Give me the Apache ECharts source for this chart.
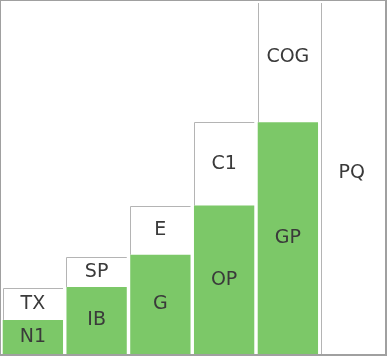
<!DOCTYPE html>
<html>
<head>
<meta charset="utf-8">
<script src="https://cdn.jsdelivr.net/npm/echarts@6/dist/echarts.min.js"></script>
<style>
html,body{margin:0;padding:0;background:#fff;}
#chart{width:384px;height:353px;border-style:solid;border-color:#a0a0a0;border-width:1px 2px 2px 1px;}
</style>
</head>
<body>
<div id="chart"></div>
<script>
const categories = ['N1', 'IB', 'G', 'OP', 'GP', 'PQ'];
const baseLabels = ['N1', 'IB', 'G', 'OP', 'GP', ''];
const topLabels = ['TX', 'SP', 'E', 'C1', 'COG', 'PQ'];
const baseValues = [9.7, 19.1, 28.3, 42.3, 66.0, 0];
const totalValues = [18.9, 27.7, 42.3, 66.0, 103, 103];

const GREEN = '#7cc868';
const EDGE = '#b4b4b4';
const TEXT = '#3a3a3a';
const FONT = 'normal 19px "DejaVu Sans"';

const chart = echarts.init(document.getElementById('chart'), null, {renderer: 'canvas'});

const data = categories.map((c, i) => [i, baseValues[i], totalValues[i]]);

chart.setOption({
  animation: false,
  grid: {left: 0, right: 1.5, top: 2, bottom: 0},
  xAxis: {type: 'category', data: categories, show: false},
  yAxis: {type: 'value', min: 0, max: 100, show: false},
  series: [{
    type: 'custom',
    data: data,
    clip: true,
    renderItem: function (params, api) {
      const i = api.value(0);
      const base = api.value(1);
      const total = api.value(2);
      const p0 = api.coord([i, 0]);
      const pb = api.coord([i, base]);
      const pt = api.coord([i, total]);
      const bw = api.size([1, 0])[0] * 0.946;
      const left = p0[0] - bw / 2;
      const children = [];
      children.push({
        type: 'rect',
        shape: {x: left, y: pt[1], width: bw, height: pb[1] - pt[1]},
        style: {fill: '#ffffff'}
      });
      const lx = Math.round(left) + 0.5;
      const ty = Math.round(pt[1]) + 0.5;
      children.push({
        type: 'polyline',
        shape: {points: [[lx, pb[1]], [lx, ty], [left + bw, ty]]},
        style: {stroke: EDGE, lineWidth: 1, fill: null}
      });
      if (base > 0) {
        children.push({
          type: 'rect',
          shape: {x: left, y: pb[1], width: bw, height: p0[1] - pb[1]},
          style: {fill: GREEN}
        });
        children.push({
          type: 'text',
          style: {
            text: baseLabels[i], x: p0[0], y: (pb[1] + p0[1]) / 2,
            font: FONT, fill: TEXT,
            align: 'center', verticalAlign: 'middle',
            textAlign: 'center', textVerticalAlign: 'middle'
          }
        });
      }
      children.push({
        type: 'text',
        style: {
          text: topLabels[i], x: p0[0], y: (pt[1] + pb[1]) / 2,
          font: FONT, fill: TEXT,
          align: 'center', verticalAlign: 'middle',
          textAlign: 'center', textVerticalAlign: 'middle'
        }
      });
      return {type: 'group', children: children};
    }
  }]
});
</script>
</body>
</html>
